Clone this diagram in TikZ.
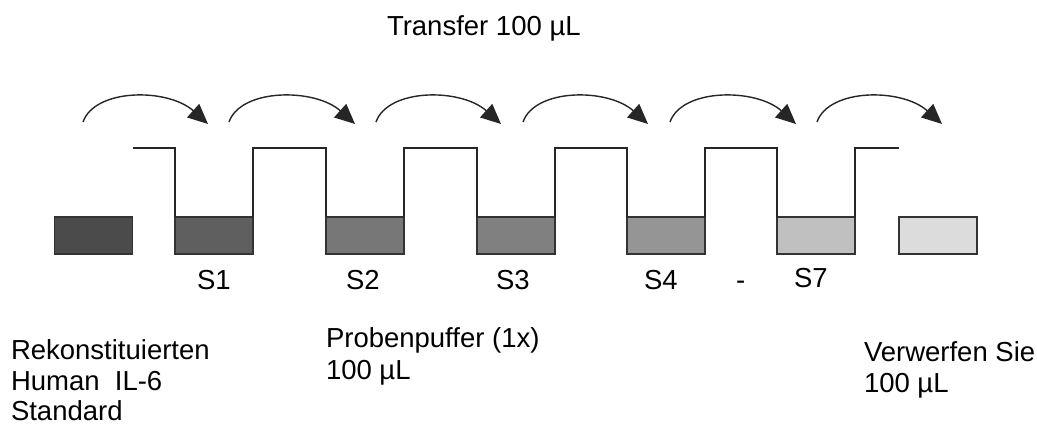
\documentclass[tikz,border=0pt]{standalone}
\usepackage{fontspec}
\setmainfont{Liberation Sans}
\usetikzlibrary{arrows.meta}
\definecolor{edge}{HTML}{333333}
\definecolor{c0}{HTML}{4B4B4B}
\definecolor{c1}{HTML}{5F5F5F}
\definecolor{c2}{HTML}{777777}
\definecolor{c3}{HTML}{808080}
\definecolor{c4}{HTML}{959595}
\definecolor{c5}{HTML}{C0C0C0}
\definecolor{c6}{HTML}{DCDCDC}
\tikzset{
  tube/.style={draw=edge, line width=1.6pt, minimum width=78pt, minimum height=37pt, inner sep=0pt, outer sep=0pt},
  lbl/.style={anchor=base west, inner sep=0pt, outer sep=0pt, font=\fontsize{27.5}{31}\selectfont, text=black},
  stepline/.style={draw=black!85, line width=1.6pt},
  xfer/.style={draw=black!85, line width=1.4pt, -{Triangle[length=20pt,width=18pt]}}
}
\begin{document}
\begin{tikzpicture}[x=1pt,y=-1pt]
\useasboundingbox (0,0) rectangle (1037,424);
% tubes
\node[tube, fill=c0] (t0) at (93.5,235.5) {};
\node[tube, fill=c1] (t1) at (214,235.5) {};
\node[tube, fill=c2] (t2) at (365,235.5) {};
\node[tube, fill=c3] (t3) at (516,235.5) {};
\node[tube, fill=c4] (t4) at (666,235.5) {};
\node[tube, fill=c5] (t5) at (816,235.5) {};
\node[tube, fill=c6] (t6) at (938,235.5) {};
% step line
\draw[stepline] (t0.north east |- 0,148) -- (t1.north west |- 0,148) -- (t1.north west);
\draw[stepline] (t1.north east) -- (t1.north east |- 0,148) -- (t2.north west |- 0,148) -- (t2.north west);
\draw[stepline] (t2.north east) -- (t2.north east |- 0,148) -- (t3.north west |- 0,148) -- (t3.north west);
\draw[stepline] (t3.north east) -- (t3.north east |- 0,148) -- (t4.north west |- 0,148) -- (t4.north west);
\draw[stepline] (t4.north east) -- (t4.north east |- 0,148) -- (t5.north west |- 0,148) -- (t5.north west);
\draw[stepline] (t5.north east) -- (t5.north east |- 0,148) -- (t6.north west |- 0,148);
% transfer arrows
\foreach \i/\s/\e in {1/83/208, 2/229/355, 3/376/501, 4/523/648, 5/670/796, 6/817/942}{
  \coordinate (a\i) at (\s,122);
  \coordinate (b\i) at (\e,124);
  \draw[xfer] (a\i) .. controls ([xshift=12pt,yshift=34pt]a\i) and ([xshift=-40pt,yshift=36pt]b\i) .. (b\i);
}
% labels
\node[lbl] (title) at (387,35) {Transfer 100 µL};
\node[lbl] (s1) at (197,289) {S1};
\node[lbl] (s2) at (346,289) {S2};
\node[lbl] (s3) at (496,289) {S3};
\node[lbl] (s4) at (644,289) {S4};
\node[lbl] (dash) at (736,289) {-};
\node[lbl] (s7) at (794,287) {S7};
\node[lbl] (r1) at (11,359) {Rekonstituierten};
\node[lbl] (r2) at (11,390) {Human\ \ IL-6};
\node[lbl] (r3) at (11,420) {Standard};
\node[lbl] (p1) at (326,347) {Probenpuffer (1x)};
\node[lbl] (p2) at (326,379) {100 µL};
\node[lbl] (v1) at (864,361) {Verwerfen Sie};
\node[lbl] (v2) at (864,392) {100 µL};
\end{tikzpicture}
\end{document}
